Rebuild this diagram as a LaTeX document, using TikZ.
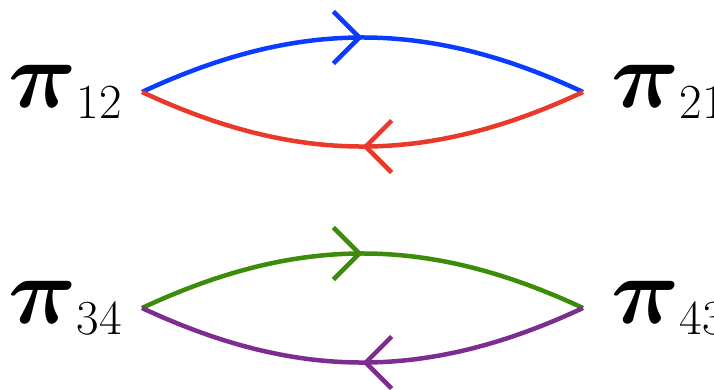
\documentclass[tikz,border=0pt]{standalone}
\usepackage{amsmath}
\usepackage{graphicx}
\usetikzlibrary{positioning,arrows.meta,decorations.markings}

\definecolor{lineblue}{HTML}{0A3CFF}
\definecolor{linered}{HTML}{E8392A}
\definecolor{linegreen}{HTML}{3C8C0A}
\definecolor{linepurple}{HTML}{7D2D90}

\tikzset{
  flow/.style={line width=4.5pt,
    postaction={decorate},
    decoration={markings, mark=at position 0.5 with
      {\arrow[line width=4.5pt]{Straight Barb[length=26pt,width=52pt]}}}},
  pilabel/.style={inner sep=0pt, font=\fontsize{49}{49}\selectfont}
}
\newcommand{\pisub}[1]{{\fontsize{10}{12}\selectfont\scalebox{9.5}{$\boldsymbol{\pi}$}}\raisebox{-11pt}{#1}}

\begin{document}
\begin{tikzpicture}[x=1pt,y=-1pt]
\useasboundingbox (0,0) rectangle (714,389);
\coordinate (v12) at (142,92);
\coordinate (v21) at (583,92);
\coordinate (v34) at (142,308);
\coordinate (v43) at (583,308);
\node (p12) [pilabel, left=20pt of v12] {\pisub{12}};
\node (p21) [pilabel, right=28pt of v21] {\pisub{21}};
\node (p34) [pilabel, left=20pt of v34] {\pisub{34}};
\node (p43) [pilabel, right=28pt of v43] {\pisub{43}};
\draw[flow, lineblue] (v12) to[bend left=25] (v21);
\draw[flow, linered] (v21) to[bend left=25] (v12);
\draw[flow, linegreen] (v34) to[bend left=25] (v43);
\draw[flow, linepurple] (v43) to[bend left=25] (v34);
\end{tikzpicture}
\end{document}
